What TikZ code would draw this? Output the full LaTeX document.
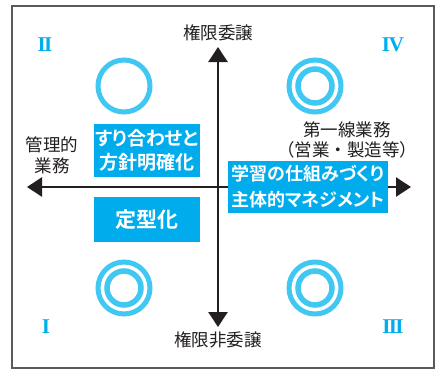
\documentclass[tikz,border=0pt]{standalone}
\usepackage{fontspec}
\setmainfont{Noto Sans CJK JP}[BoldFont={Noto Sans CJK JP Bold}]
\newfontfamily\propfont{Noto Sans CJK JP}[BoldFont={Noto Sans CJK JP Bold},RawFeature=+palt]
\newfontfamily\romanfont{Liberation Serif}
\usetikzlibrary{arrows.meta}
\definecolor{boxblue}{RGB}{0,172,236}
\definecolor{ringblue}{RGB}{64,200,242}
\definecolor{numblue}{RGB}{0,174,239}
\definecolor{inkc}{RGB}{35,31,32}
\definecolor{framegray}{RGB}{90,90,90}
\tikzset{
  axisline/.style={line width=2.6pt, draw=inkc,
    {Triangle[width=19pt,length=15pt]}-{Triangle[width=19pt,length=15pt]}},
  blacklabel/.style={text=inkc, font=\fontsize{17.5}{21}\selectfont, align=center, inner sep=0pt},
  bluebox/.style={fill=boxblue, text=white, align=center, inner sep=0pt},
  ring/.style={circle, draw=ringblue, line width=5pt, inner sep=0pt},
  numeral/.style={text=numblue, font=\romanfont\bfseries\fontsize{21}{21}\selectfont, inner sep=0pt},
}
\begin{document}
\begin{tikzpicture}[x=1pt,y=-1pt]
\useasboundingbox (0,0) rectangle (441,370);
\fill[white] (0,0) rectangle (441,370);
\draw[draw=framegray, line width=1.3pt] (12,6) rectangle (434,368);

% axes
\coordinate (top) at (218,47);
\coordinate (bottom) at (218,327);
\coordinate (left) at (27,187);
\coordinate (right) at (411,187);
\draw[axisline] (bottom) -- (top);
\draw[axisline] (left) -- (right);

% axis labels
\node[blacklabel] (lt) at (218,33) {権限委譲};
\node[blacklabel] (lb) at (218,340) {権限非委譲};
\node[blacklabel] (ll) at (52,155) {管理的\\業務};
\node[blacklabel, font=\fontsize{17.5}{20}\selectfont] (lr) at (347,140) {第一線業務\\（営業・製造等）};

% quadrant numerals
\node[numeral] (q2) at (45,45) {I\kern-1.6ptI};
\node[numeral] (q4) at (393,45) {I\kern-1.2ptV};
\node[numeral] (q1) at (46,327) {I};
\node[numeral] (q3) at (393,327) {I\kern-1.6ptI\kern-1.6ptI};

% rings
\node[ring, minimum size=52pt] (c2) at (124,86) {};
\node[ring, minimum size=52pt] (c4) at (315,86) {};
\node[ring, minimum size=34pt, line width=5.5pt] (c4i) at (315,86) {};
\node[ring, minimum size=52pt] (c1) at (124,288) {};
\node[ring, minimum size=34pt, line width=5.5pt] (c1i) at (124,288) {};
\node[ring, minimum size=52pt] (c3) at (315,288) {};
\node[ring, minimum size=34pt, line width=5.5pt] (c3i) at (315,288) {};

% blue boxes
\node[bluebox, minimum width=106pt, minimum height=53pt,
  font=\propfont\bfseries\fontsize{19}{24}\selectfont] (b1) at (147,150.5) {すり合わせと\\方針明確化};
\node[bluebox, minimum width=106pt, minimum height=45pt,
  font=\bfseries\fontsize{21}{24}\selectfont] (b2) at (147,219.5) {定型化};
\node[bluebox, minimum width=160pt, minimum height=52pt,
  font=\propfont\bfseries\fontsize{18}{26}\selectfont] (b3) at (308,187) {学習の仕組みづくり\\主体的マネジメント};
\end{tikzpicture}
\end{document}
